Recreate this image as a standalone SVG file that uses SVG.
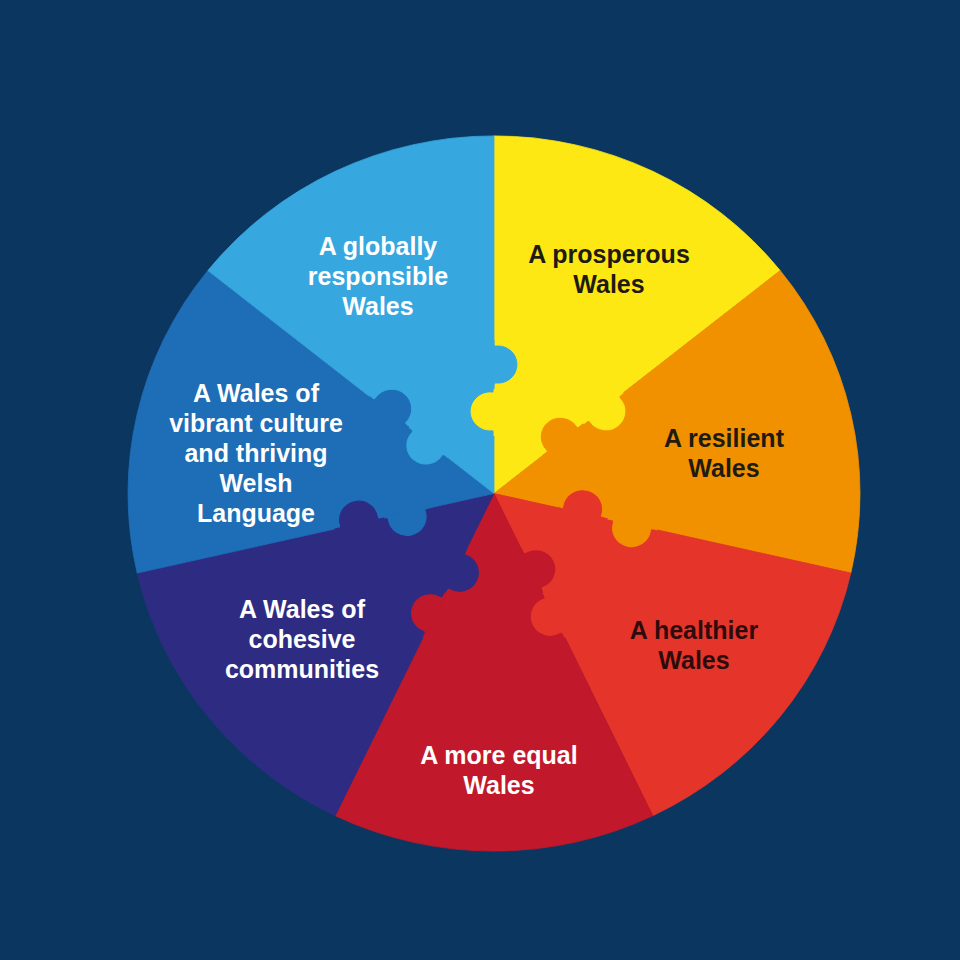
<svg xmlns="http://www.w3.org/2000/svg" width="960" height="960" viewBox="0 0 960 960">
<style>
.ye{fill:#fde814;stroke:#fde814}
.or{fill:#f29100;stroke:#f29100}
.rd{fill:#e5352b;stroke:#e5352b}
.dr{fill:#c1182b;stroke:#c1182b}
.in{fill:#2e2c82;stroke:#2e2c82}
.bl{fill:#1e6db7;stroke:#1e6db7}
.lb{fill:#37a7df;stroke:#37a7df}
.wedge{stroke-width:0.8;stroke-linejoin:round}
use{stroke:none}
text{font-family:"Liberation Sans",Arial,sans-serif;font-weight:bold;font-size:25px;text-anchor:middle}
.w{fill:#ffffff}
.k{fill:#1f1a12}
.kr{fill:#2e0b0b}
</style>
<defs>
<path id="knob" d="M-24,-2 L-25,0 C-21,0 -18.67,-0.65 -18.93,2.34 A19,19 0 1 0 18.93,2.34 C18.67,-0.65 21,0 25,0 L24,-2 Z"/>
</defs>
<rect width="960" height="960" fill="#0b3660"/>

<g id="prosperous">
<path class="ye wedge" transform="translate(494,493.5) scale(1,0.977)" d="M0,0 L0,-366 A366,366 0 0 1 286.15,-228.2 Z"/>
<text class="k" x="609" y="263">A prosperous</text>
<text class="k" x="609" y="293">Wales</text>
</g>

<g id="resilient">
<path class="or wedge" transform="translate(494,493.5) scale(1,0.977)" d="M0,0 L286.15,-228.2 A366,366 0 0 1 356.82,81.44 Z"/>
<text class="k" x="724" y="447">A resilient</text>
<text class="k" x="724" y="477">Wales</text>
</g>

<g id="healthier">
<path class="rd wedge" transform="translate(494,493.5) scale(1,0.977)" d="M0,0 L356.82,81.44 A366,366 0 0 1 158.8,329.76 Z"/>
<text class="kr" x="694" y="639">A healthier</text>
<text class="kr" x="694" y="669">Wales</text>
</g>

<g id="more-equal">
<path class="dr wedge" transform="translate(494,493.5) scale(1,0.977)" d="M0,0 L158.8,329.76 A366,366 0 0 1 -158.8,329.76 Z"/>
<text class="w" x="499" y="764">A more equal</text>
<text class="w" x="499" y="794">Wales</text>
</g>

<g id="cohesive">
<path class="in wedge" transform="translate(494,493.5) scale(1,0.977)" d="M0,0 L-158.8,329.76 A366,366 0 0 1 -356.82,81.44 Z"/>
<text class="w" x="302" y="618">A Wales of</text>
<text class="w" x="302" y="648">cohesive</text>
<text class="w" x="302" y="678">communities</text>
</g>

<g id="culture">
<path class="bl wedge" transform="translate(494,493.5) scale(1,0.977)" d="M0,0 L-356.82,81.44 A366,366 0 0 1 -286.15,-228.2 Z"/>
<text class="w" x="256" y="402">A Wales of</text>
<text class="w" x="256" y="432">vibrant culture</text>
<text class="w" x="256" y="462">and thriving</text>
<text class="w" x="256" y="492">Welsh</text>
<text class="w" x="256" y="522">Language</text>
</g>

<g id="globally">
<path class="lb wedge" transform="translate(494,493.5) scale(1,0.977)" d="M0,0 L-286.15,-228.2 A366,366 0 0 1 0,-366 Z"/>
<text class="w" x="378" y="255">A globally</text>
<text class="w" x="378" y="285">responsible</text>
<text class="w" x="378" y="315">Wales</text>
</g>

<g id="tabs" transform="translate(494,493.5) scale(1,0.977)">
<use href="#knob" class="ye" transform="rotate(-90) translate(84,0) scale(1,-1)"/>
<use href="#knob" class="lb" transform="rotate(-90) translate(132,0)"/>
<use href="#knob" class="or" transform="rotate(-38.5714) translate(88,0) scale(1,-1)"/>
<use href="#knob" class="ye" transform="rotate(-38.5714) translate(140,0)"/>
<use href="#knob" class="rd" transform="rotate(12.8571) translate(90,0) scale(1,-1)"/>
<use href="#knob" class="or" transform="rotate(12.8571) translate(142,0)"/>
<use href="#knob" class="dr" transform="rotate(64.2857) translate(88,0) scale(1,-1)"/>
<use href="#knob" class="rd" transform="rotate(64.2857) translate(138,0)"/>
<use href="#knob" class="in" transform="rotate(115.7143) translate(88,0) scale(1,-1)"/>
<use href="#knob" class="dr" transform="rotate(115.7143) translate(138,0)"/>
<use href="#knob" class="bl" transform="rotate(167.1429) translate(90,0) scale(1,-1)"/>
<use href="#knob" class="in" transform="rotate(167.1429) translate(138,0)"/>
<use href="#knob" class="lb" transform="rotate(218.5714) translate(84,0) scale(1,-1)"/>
<use href="#knob" class="bl" transform="rotate(218.5714) translate(134,0)"/>
</g>
</svg>
